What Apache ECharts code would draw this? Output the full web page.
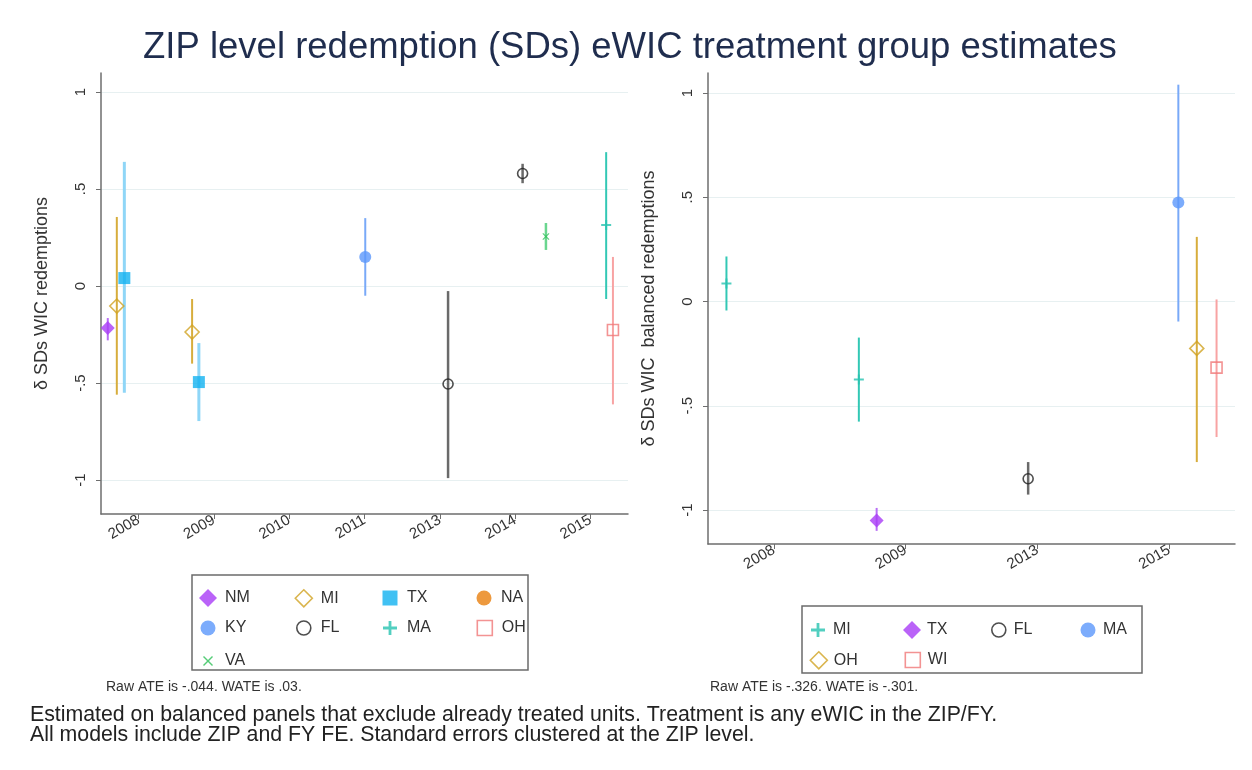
<!DOCTYPE html>
<html>
<head>
<meta charset="utf-8">
<title>ZIP level redemption (SDs) eWIC treatment group estimates</title>
<script src="https://cdn.jsdelivr.net/npm/echarts@6.0.0/dist/echarts.min.js"></script>
<style>
  html, body { margin: 0; padding: 0; background: #fff; }
  #chart { width: 1252px; height: 770px; }
</style>
</head>
<body>
<div id="chart"></div>
<script>
  // tick labels
  const leftYears = ['2008', '2009', '2010', '2011', '2013', '2014', '2015']
  const rightYears = ['2008', '2009', '2013', '2015']
  const yTicks = [-1, -0.5, 0, 0.5, 1]

  // left panel, each row: [x position, estimate, lower CI, upper CI]
  const leftNM = [[-0.41, -0.216, -0.28, -0.165]]
  const leftMI = [[-0.29, -0.103, -0.56, 0.356], [0.71, -0.237, -0.40, -0.067]]
  const leftTX = [[-0.19, 0.041, -0.55, 0.64], [0.80, -0.495, -0.696, -0.294]]
  const leftNA = []
  const leftKY = [[3.01, 0.15, -0.05, 0.35]]
  const leftFL = [[4.11, -0.505, -0.99, -0.026], [5.10, 0.58, 0.53, 0.63]]
  const leftMA = [[6.21, 0.315, -0.067, 0.69]]
  const leftOH = [[6.30, -0.227, -0.61, 0.15]]
  const leftVA = [[5.41, 0.255, 0.186, 0.325]]

  // right panel (balanced)
  const rightMI = [[-0.36, 0.086, -0.043, 0.216], [0.645, -0.374, -0.576, -0.173]]
  const rightTX = [[0.78, -1.05, -1.10, -0.99]]
  const rightFL = [[1.93, -0.85, -0.926, -0.77]]
  const rightMA = [[3.07, 0.475, -0.096, 1.04]]
  const rightOH = [[3.21, -0.225, -0.77, 0.31]]
  const rightWI = [[3.36, -0.317, -0.65, 0.01]]

  const leftNote = 'Raw ATE is -.044. WATE is .03.'
  const rightNote = 'Raw ATE is -.326. WATE is -.301.'
  const footNotes = [
    'Estimated on balanced panels that exclude already treated units. Treatment is any eWIC in the ZIP/FY.',
    'All models include ZIP and FY FE. Standard errors clustered at the ZIP level.'
  ]

  const FONT = '"Liberation Sans", Arial, sans-serif'
  const plusPath = 'path://M4,0h2v4h4v2h-4v4h-2v-4h-4v-2h4z'
  const crossPath = 'path://M1,0L5,4L9,0L10,1L6,5L10,9L9,10L5,6L1,10L0,9L4,5L0,1Z'

  // marker look per stata style slot (size = plot marker, leg = legend icon)
  const looks = {
    diamond: { symbol: 'diamond', size: 14, leg: 18, color: '#a93cf6', ci: '#b86ef5', hollow: false, w: 2 },
    hdiamond: { symbol: 'diamond', size: 14, leg: 17, color: '#d1a222', ci: '#d7ad3c', hollow: true, w: 2 },
    square: { symbol: 'rect', size: 12, leg: 15, color: '#12b2f0', ci: '#8fd6f7', hollow: false, w: 3 },
    orange: { symbol: 'circle', size: 12, leg: 15, color: '#e8800e', ci: '#eb9a44', hollow: false, w: 2 },
    dot: { symbol: 'circle', size: 12, leg: 15, color: '#5b97fb', ci: '#79a9f8', hollow: false, w: 2 },
    ring: { symbol: 'circle', size: 10, leg: 14, color: '#222222', ci: '#6a6a6a', hollow: true, w: 2.5 },
    plus: { symbol: plusPath, size: 10, leg: 14, color: '#27c3b0', ci: '#33c8b5', hollow: false, w: 2 },
    hsquare: { symbol: 'rect', size: 11, leg: 15, color: '#f07878', ci: '#f8a3a3', hollow: true, w: 2 },
    cross: { symbol: crossPath, size: 7, leg: 10, color: '#2bbf55', ci: '#6ad68f', hollow: false, w: 2.5 }
  }

  const leftItems = [
    { key: 'L_NM', look: 'diamond', data: leftNM },
    { key: 'L_MI', look: 'hdiamond', data: leftMI },
    { key: 'L_TX', look: 'square', data: leftTX },
    { key: 'L_NA', look: 'orange', data: leftNA },
    { key: 'L_KY', look: 'dot', data: leftKY },
    { key: 'L_FL', look: 'ring', data: leftFL },
    { key: 'L_MA', look: 'plus', data: leftMA },
    { key: 'L_OH', look: 'hsquare', data: leftOH },
    { key: 'L_VA', look: 'cross', data: leftVA }
  ]
  const rightItems = [
    { key: 'R_MI', look: 'plus', data: rightMI },
    { key: 'R_TX', look: 'diamond', data: rightTX },
    { key: 'R_FL', look: 'ring', data: rightFL },
    { key: 'R_MA', look: 'dot', data: rightMA },
    { key: 'R_OH', look: 'hdiamond', data: rightOH },
    { key: 'R_WI', look: 'hsquare', data: rightWI }
  ]

  function markStyle(lk) {
    if (lk.hollow) {
      return { color: 'rgba(255,255,255,0)', borderColor: lk.color, borderWidth: 1.6 }
    }
    return { color: lk.color }
  }

  function buildSeries(items, idx) {
    const out = []
    items.forEach((it) => {
      const lk = looks[it.look]
      // confidence interval
      out.push({
        name: it.key + '_ci',
        type: 'custom',
        xAxisIndex: idx,
        yAxisIndex: idx,
        z: 2,
        silent: true,
        data: it.data,
        encode: { x: 0, y: [2, 3] },
        renderItem: (params, api) => {
          const x = api.value(0)
          const lo = api.coord([x, api.value(2)])
          const hi = api.coord([x, api.value(3)])
          return {
            type: 'line',
            shape: { x1: lo[0], y1: lo[1], x2: hi[0], y2: hi[1] },
            style: { stroke: lk.ci, lineWidth: lk.w }
          }
        }
      })
      // point estimate
      out.push({
        name: it.key,
        type: 'scatter',
        xAxisIndex: idx,
        yAxisIndex: idx,
        z: 3,
        symbol: lk.symbol,
        symbolSize: lk.size,
        itemStyle: markStyle(lk),
        data: it.data.map((d) => [d[0], d[1]])
      })
    })
    return out
  }

  // one legend component per entry so the columns line up like stata's
  function buildLegends(items, cols, rows, textStart) {
    return items.map((it, i) => {
      const lk = looks[it.look]
      const cx = cols[i % 4]
      const cy = rows[Math.floor(i / 4)]
      return {
        left: cx - lk.leg / 2,
        top: cy - 9,
        selectedMode: false,
        itemWidth: lk.leg,
        itemHeight: lk.leg,
        data: [{ name: it.key, icon: lk.symbol, itemStyle: markStyle(lk) }],
        formatter: (name) => name.slice(2),
        textStyle: {
          fontFamily: FONT,
          fontSize: 16,
          lineHeight: 18,
          color: '#333',
          padding: [0, 0, 0, textStart - lk.leg / 2 - 10]
        }
      }
    })
  }

  const axisGray = '#6e6e6e'
  const fmtY = (v) => String(v).replace('0.', '.')

  function xAxisOf(idx, labels) {
    const ticks = labels.map((_, i) => i)
    return {
      gridIndex: idx,
      type: 'value',
      min: -0.5,
      max: labels.length - 0.5,
      axisLine: { show: true, onZero: false, lineStyle: { color: axisGray, width: 1.5 } },
      axisTick: { show: true, length: 5, customValues: ticks, lineStyle: { color: axisGray } },
      axisLabel: {
        customValues: ticks,
        rotate: 30,
        margin: 5,
        fontFamily: FONT,
        fontSize: 15,
        color: '#333',
        formatter: (v) => labels[Math.round(v)]
      },
      splitLine: { show: false }
    }
  }

  function yAxisOf(idx, min, max, name) {
    return {
      gridIndex: idx,
      type: 'value',
      min,
      max,
      name,
      nameLocation: 'middle',
      nameGap: 50,
      nameTextStyle: { fontFamily: FONT, fontSize: 18, color: '#333' },
      axisLine: { show: true, onZero: false, lineStyle: { color: axisGray, width: 1.5 } },
      axisTick: { show: true, length: 5, customValues: yTicks, lineStyle: { color: axisGray } },
      axisLabel: {
        customValues: yTicks,
        rotate: 90,
        margin: 13,
        fontFamily: FONT,
        fontSize: 15,
        color: '#333',
        formatter: fmtY
      },
      splitLine: { show: true, lineStyle: { color: '#e7f0f1', width: 1.2 } }
    }
  }

  const chart = echarts.init(document.getElementById('chart'))

  chart.setOption({
    backgroundColor: '#ffffff',
    animation: false,
    title: {
      text: 'ZIP level redemption (SDs) eWIC treatment group estimates',
      left: 138,
      top: 24,
      textStyle: { fontFamily: FONT, fontSize: 36.5, fontWeight: 'normal', color: '#1f2d4e' }
    },
    grid: [
      { left: 101, top: 73, width: 527, height: 441 },
      { left: 708, top: 73, width: 527, height: 471 }
    ],
    xAxis: [xAxisOf(0, leftYears), xAxisOf(1, rightYears)],
    yAxis: [
      yAxisOf(0, -1.175, 1.098, 'δ SDs WIC redemptions'),
      yAxisOf(1, -1.163, 1.096, 'δ SDs WIC  balanced redemptions')
    ],
    legend: [
      ...buildLegends(leftItems, [203, 298, 385, 479], [593, 623, 656], 22),
      ...buildLegends(rightItems, [813, 907, 993, 1083], [625, 655], 20)
    ],
    graphic: [
      { type: 'rect', shape: { x: 192, y: 575, width: 336, height: 95 }, style: { fill: 'none', stroke: '#6b6b6b', lineWidth: 1.5 } },
      { type: 'rect', shape: { x: 802, y: 606, width: 340, height: 67 }, style: { fill: 'none', stroke: '#6b6b6b', lineWidth: 1.5 } },
      { type: 'text', left: 106, top: 680, style: { text: leftNote, fontFamily: FONT, fontSize: 14, fill: '#333' } },
      { type: 'text', left: 710, top: 680, style: { text: rightNote, fontFamily: FONT, fontSize: 14, fill: '#333' } },
      { type: 'text', left: 30, top: 705, style: { text: footNotes[0], fontFamily: FONT, fontSize: 21.3, fill: '#222' } },
      { type: 'text', left: 30, top: 725, style: { text: footNotes[1], fontFamily: FONT, fontSize: 21.3, fill: '#222' } }
    ],
    series: [...buildSeries(leftItems, 0), ...buildSeries(rightItems, 1)]
  })
</script>
</body>
</html>
